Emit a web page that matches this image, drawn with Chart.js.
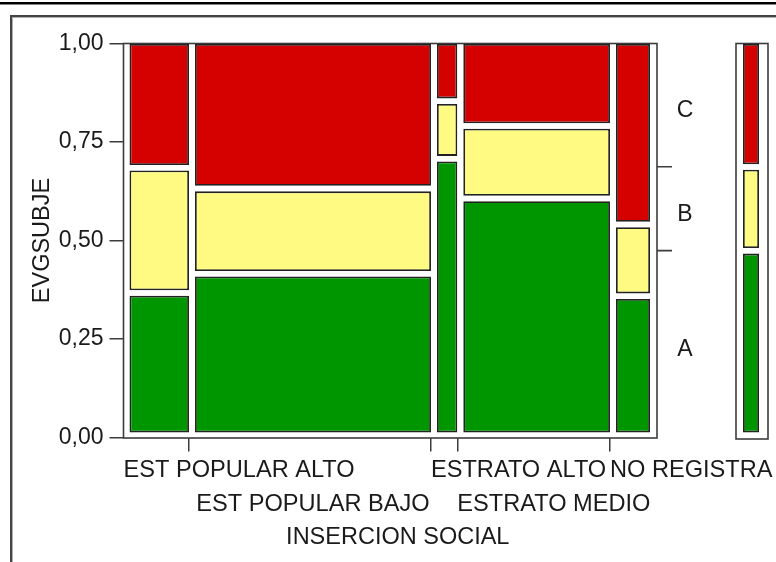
<!DOCTYPE html>
<html>
<head>
<meta charset="utf-8">
<script src="https://cdn.jsdelivr.net/npm/chart.js@4/dist/chart.umd.min.js"></script>
<style>
  html, body { margin: 0; padding: 0; background: #fff; }
  canvas { display: block; }
</style>
</head>
<body>
<canvas id="mosaic" width="776" height="562"></canvas>
<script>
// Row categories and their share of all cases (column widths)
const categories = ['EST POPULAR ALTO', 'EST POPULAR BAJO', 'ESTRATO ALTO', 'ESTRATO MEDIO', 'NO REGISTRA'];
const columnShare = [0.1244, 0.4596, 0.0500, 0.2900, 0.0760];

// Response levels, bottom to top
const levels = ['A', 'B', 'C'];
const levelColors = ['#009600', '#fffa82', '#d50000'];

// Share of each response level within every category
const shareA = [0.361, 0.410, 0.702, 0.601, 0.353];
const shareB = [0.318, 0.216, 0.146, 0.184, 0.182];
const shareC = [0.321, 0.374, 0.152, 0.215, 0.465];

// Share of each response level over all cases (A, B, C)
const totalShare = [0.468, 0.213, 0.319];

const yTicks = [0, 0.25, 0.5, 0.75, 1];
const xTitle = 'INSERCION SOCIAL';
const yTitle = 'EVGSUBJE';

const FONT = '"Liberation Sans", Arial, sans-serif';
const INK = '#1a1a1a';
const LINE = '#3c3c3c';
const GAP_X = 6;   // white gap left of each column
const GAP_Y = 5;   // white gap below each tile

// cumulative column edges on the 0..1 share axis
const edges = [0];
columnShare.forEach(s => edges.push(edges[edges.length - 1] + s));

const perCategory = [shareA, shareB, shareC];

// floating [low, high] ranges per level; last point is the overall column
const datasets = levels.map((lvl, li) => {
  const data = categories.map((_, ci) => {
    let lo = 0;
    for (let k = 0; k < li; k++) lo += perCategory[k][ci];
    return [lo, lo + perCategory[li][ci]];
  });
  let lo = 0;
  for (let k = 0; k < li; k++) lo += totalShare[k];
  data.push([lo, lo + totalShare[li]]);
  return {
    label: lvl,
    data,
    xAxisID: 'x',
    yAxisID: 'y',
    backgroundColor: levelColors[li],
    borderColor: '#222222',
    borderWidth: 1.8,
    borderSkipped: false,
    clip: false
  };
});

function mainFrameRight(chart) {
  return chart.scales.share.getPixelForValue(1) + 7;
}

const mosaicPlugin = {
  id: 'mosaicLayout',
  afterDatasetsUpdate(chart) {
    const xs = chart.scales.share, ys = chart.scales.y;
    const frameRight = mainFrameRight(chart);
    chart.data.datasets.forEach((ds, di) => {
      const meta = chart.getDatasetMeta(di);
      meta.data.forEach((bar, i) => {
        const [lo, hi] = ds.data[i];
        let left, right;
        if (i < categories.length) {
          left = xs.getPixelForValue(edges[i]) + GAP_X;
          right = xs.getPixelForValue(edges[i + 1]);
        } else {
          left = frameRight + 79 + 7;
          right = left + 16;
        }
        const top = ys.getPixelForValue(hi) + 0.5;
        const bottom = ys.getPixelForValue(lo) - GAP_Y;
        bar.x = (left + right) / 2;
        bar.width = right - left;
        bar.y = top;
        bar.base = bottom;
      });
    });
  },
  beforeDraw(chart) {
    const ctx = chart.ctx;
    ctx.save();
    // page rule and panel border
    ctx.fillStyle = '#000';
    ctx.fillRect(0, 2, chart.width, 2.5);
    ctx.fillStyle = '#444';
    ctx.fillRect(10, 15, chart.width - 10, 2);
    ctx.fillRect(10, 15, 2, chart.height - 15);
    ctx.fillStyle = '#b0b0b0';
    ctx.fillRect(12, 17, chart.width - 12, 1);
    ctx.fillRect(12, 17, 1, chart.height - 17);
    ctx.restore();
  },
  beforeDatasetsDraw(chart) {
    const ctx = chart.ctx;
    const xs = chart.scales.share, ys = chart.scales.y;
    const left = xs.getPixelForValue(0);
    const frameRight = mainFrameRight(chart);
    const top = ys.getPixelForValue(1);
    const bottom = ys.getPixelForValue(0) + 0.5;
    ctx.save();
    ctx.strokeStyle = LINE;
    ctx.lineWidth = 1.6;
    ctx.strokeRect(left, top, frameRight - left, bottom - top);
    // overall column frame
    const mLeft = frameRight + 79;
    ctx.strokeRect(mLeft, top, 32, bottom + 1 - top);
    // level boundary ticks on the right of the main frame
    let cum = 0;
    ctx.beginPath();
    for (let k = 0; k < levels.length - 1; k++) {
      cum += totalShare[k];
      const y = ys.getPixelForValue(cum) - GAP_Y / 2;
      ctx.moveTo(frameRight, y);
      ctx.lineTo(frameRight + 15, y);
    }
    ctx.stroke();
    ctx.restore();
  },
  afterDraw(chart) {
    const ctx = chart.ctx;
    const xs = chart.scales.share, ys = chart.scales.y;
    const y0 = ys.getPixelForValue(0);
    const frameRight = mainFrameRight(chart);
    ctx.save();
    ctx.font = '23.6px ' + FONT;
    ctx.fillStyle = INK;
    ctx.textBaseline = 'middle';
    ctx.textAlign = 'left';
    // staggered category labels under the columns
    categories.forEach((name, i) => {
      const l = xs.getPixelForValue(edges[i]);
      const r = xs.getPixelForValue(edges[i + 1]);
      const w = ctx.measureText(name).width;
      const centre = (l + GAP_X + r) / 2;
      const x = Math.max(l, centre - w / 2);
      const y = y0 + 33 + (i % 2) * 34;
      ctx.fillText(name, x, y);
    });
    // axis title
    ctx.font = '23.5px ' + FONT;
    ctx.textAlign = 'center';
    const titleX = (xs.getPixelForValue(0) + frameRight + 15) / 2;
    ctx.fillText(xTitle, titleX, y0 + 100);
    // level names beside the frame
    ctx.font = '23px ' + FONT;
    let cum = 0;
    levels.forEach((lvl, k) => {
      const mid = cum + totalShare[k] / 2;
      cum += totalShare[k];
      ctx.fillText(lvl, frameRight + 28, ys.getPixelForValue(mid) + 4);
    });
    ctx.restore();
  }
};

new Chart(document.getElementById('mosaic'), {
  type: 'bar',
  data: {
    labels: [...categories, 'Total'],
    datasets
  },
  options: {
    responsive: false,
    animation: false,
    events: [],
    layout: { padding: { left: 28, top: 43.5, right: 126, bottom: 0 } },
    plugins: {
      legend: { display: false },
      tooltip: { enabled: false }
    },
    scales: {
      x: { type: 'category', display: false, offset: true },
      share: {
        type: 'linear',
        axis: 'x',
        position: 'bottom',
        min: 0,
        max: 1,
        offset: false,
        afterBuildTicks: s => { s.ticks = edges.slice(1, -1).map(v => ({ value: v })); },
        afterFit: s => { s.height = 124.5; s.paddingLeft = 0; s.paddingRight = 0; },
        ticks: { display: false },
        grid: { offset: false, drawOnChartArea: false, drawTicks: true, tickLength: 14, color: LINE, lineWidth: 1.5 },
        border: { display: false }
      },
      y: {
        type: 'linear',
        min: 0,
        max: 1,
        afterBuildTicks: s => { s.ticks = yTicks.map(v => ({ value: v })); },
        afterFit: s => { s.width = 95.5; },
        ticks: {
          callback: v => Number(v).toFixed(2).replace('.', ','),
          font: { family: FONT, size: 23 },
          color: INK,
          padding: 6,
          autoSkip: false
        },
        grid: { drawOnChartArea: false, drawTicks: true, tickLength: 14, color: LINE, lineWidth: 1.5 },
        border: { display: false },
        title: { display: true, text: yTitle, font: { family: FONT, size: 23.5 }, color: INK, padding: 0 }
      }
    }
  },
  plugins: [mosaicPlugin]
});
</script>
</body>
</html>
